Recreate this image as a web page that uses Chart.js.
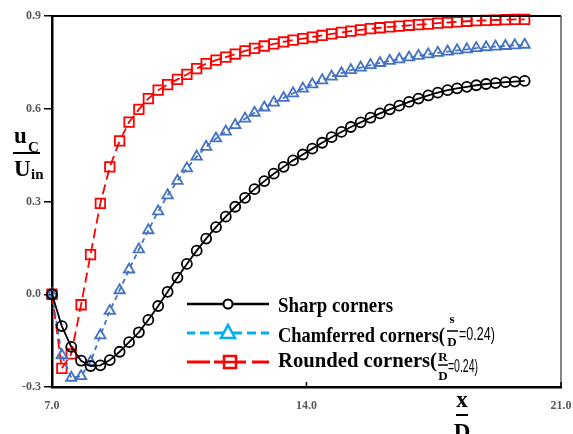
<!DOCTYPE html>
<html>
<head>
<meta charset="utf-8">
<script src="https://cdn.jsdelivr.net/npm/chart.js"></script>
<style>html,body{margin:0;padding:0;background:#fff}</style>
</head>
<body>
<canvas id="chart" width="573" height="434"></canvas>
<script>
// x / D positions of the samples
var xVals = [7.00, 7.27, 7.53, 7.80, 8.06, 8.33, 8.59, 8.86, 9.12, 9.39,
  9.65, 9.92, 10.18, 10.45, 10.71, 10.98, 11.24, 11.51, 11.78, 12.04,
  12.31, 12.57, 12.84, 13.10, 13.37, 13.63, 13.90, 14.16, 14.43, 14.69,
  14.96, 15.22, 15.49, 15.76, 16.02, 16.29, 16.55, 16.82, 17.08, 17.35,
  17.61, 17.88, 18.14, 18.41, 18.67, 18.94, 19.20, 19.47, 19.73, 20.00];

var sharp = [0.0, -0.103, -0.17, -0.215, -0.232, -0.23, -0.213, -0.186, -0.155, -0.123,
  -0.083, -0.038, 0.008, 0.054, 0.098, 0.141, 0.18, 0.217, 0.251, 0.283,
  0.312, 0.34, 0.366, 0.39, 0.412, 0.433, 0.452, 0.471, 0.49, 0.508,
  0.525, 0.541, 0.556, 0.571, 0.585, 0.598, 0.61, 0.622, 0.633, 0.643,
  0.652, 0.66, 0.666, 0.671, 0.676, 0.68, 0.683, 0.686, 0.688, 0.69];

var chamfered = [0.0, -0.197, -0.27, -0.265, -0.219, -0.133, -0.054, 0.013, 0.08, 0.145,
  0.207, 0.268, 0.32, 0.367, 0.407, 0.445, 0.477, 0.504, 0.526, 0.547,
  0.568, 0.587, 0.604, 0.62, 0.635, 0.65, 0.665, 0.679, 0.692, 0.704,
  0.715, 0.725, 0.733, 0.741, 0.748, 0.755, 0.76, 0.766, 0.771, 0.776,
  0.781, 0.785, 0.789, 0.792, 0.796, 0.799, 0.801, 0.803, 0.805, 0.807];

var rounded = [0.0, -0.24, -0.193, -0.034, 0.128, 0.294, 0.412, 0.496, 0.557, 0.598,
  0.633, 0.66, 0.678, 0.695, 0.711, 0.73, 0.746, 0.757, 0.767, 0.777,
  0.787, 0.795, 0.803, 0.81, 0.816, 0.822, 0.827, 0.832, 0.837, 0.842,
  0.847, 0.851, 0.855, 0.859, 0.862, 0.865, 0.867, 0.87, 0.872, 0.874,
  0.877, 0.879, 0.881, 0.883, 0.885, 0.886, 0.887, 0.888, 0.889, 0.889];

var xTicks = [7, 14, 21];
var yTicks = [-0.3, 0.0, 0.3, 0.6, 0.9];

var SERIF = "'Liberation Serif', 'Times New Roman', serif";
var SANS = "'Liberation Sans', Arial, sans-serif";

function pts(ys) {
  return xVals.map(function(x, i) { return {x: x, y: ys[i]}; });
}

// draw text, squeezed horizontally to fit width w (if given)
function txt(ctx, s, x, y, font, color, w, align) {
  ctx.save();
  ctx.font = font;
  ctx.fillStyle = color || '#000';
  ctx.textBaseline = 'alphabetic';
  ctx.textAlign = align || 'left';
  var m = ctx.measureText(s).width;
  var sx = w ? w / m : 1;
  ctx.translate(x, y);
  ctx.scale(sx, 1);
  ctx.fillText(s, 0, 0);
  ctx.restore();
  return m * sx;
}

function hline(ctx, x1, x2, y, color, lw) {
  ctx.save();
  ctx.strokeStyle = color;
  ctx.lineWidth = lw;
  ctx.beginPath();
  ctx.moveTo(x1, y);
  ctx.lineTo(x2, y);
  ctx.stroke();
  ctx.restore();
}

var decor = {
  id: 'decor',
  afterDraw: function(chart) {
    var ctx = chart.ctx;
    var a = chart.chartArea;
    var xs = chart.scales.x;

    // frame: top and right
    hline(ctx, a.left - 1, a.right, a.top, '#000', 2);
    ctx.save();
    ctx.strokeStyle = '#333';
    ctx.lineWidth = 1.2;
    ctx.beginPath();
    ctx.moveTo(a.right, a.top);
    ctx.lineTo(a.right, a.bottom);
    ctx.stroke();
    // inner x ticks
    ctx.strokeStyle = '#000';
    ctx.lineWidth = 1.5;
    xTicks.forEach(function(v) {
      var px = xs.getPixelForValue(v);
      ctx.beginPath();
      ctx.moveTo(px, a.bottom);
      ctx.lineTo(px, a.bottom - 5);
      ctx.stroke();
    });
    ctx.restore();

    // y title u_C / U_in
    txt(ctx, 'u', 14, 143, 'bold 23px ' + SERIF, '#000');
    txt(ctx, 'C', 28, 152, 'bold 15px ' + SERIF, '#000');
    hline(ctx, 13, 40, 153, '#000', 2);
    txt(ctx, 'U', 14, 176, 'bold 23px ' + SERIF, '#000');
    txt(ctx, 'in', 31, 179, 'bold 15px ' + SERIF, '#000');

    // x title x / D
    txt(ctx, 'x', 462, 407, 'bold 23px ' + SERIF, '#000', null, 'center');
    hline(ctx, 456, 468, 415, '#000', 2);
    txt(ctx, 'D', 462, 439, 'bold 23px ' + SERIF, '#000', null, 'center');

    // legend
    var LF = 'bold 22px ' + SERIF;
    // row 1
    hline(ctx, 187, 269, 304, '#000', 2.5);
    ctx.save();
    ctx.beginPath();
    ctx.arc(228, 304, 4.5, 0, Math.PI * 2);
    ctx.fillStyle = '#fff';
    ctx.fill();
    ctx.strokeStyle = '#000';
    ctx.lineWidth = 2;
    ctx.stroke();
    ctx.restore();
    txt(ctx, 'Sharp corners', 278, 312, LF, '#000', 115);

    // row 2
    var cy = '#00b0f0';
    [[187, 195], [200, 209], [214, 242], [247, 256], [261, 269]].forEach(function(s) {
      hline(ctx, s[0], s[1], 333, cy, 3);
    });
    ctx.save();
    ctx.beginPath();
    ctx.moveTo(228, 325);
    ctx.lineTo(235, 338);
    ctx.lineTo(221, 338);
    ctx.closePath();
    ctx.fillStyle = '#fff';
    ctx.fill();
    ctx.strokeStyle = cy;
    ctx.lineWidth = 2.5;
    ctx.stroke();
    ctx.restore();
    txt(ctx, 'Chamferred corners(', 278, 342, LF, '#000', 167);
    txt(ctx, 's', 452, 323, 'bold 13px ' + SERIF, '#000', null, 'center');
    hline(ctx, 447, 458, 331, '#000', 1.5);
    txt(ctx, 'D', 452, 346, 'bold 13px ' + SERIF, '#000', null, 'center');
    txt(ctx, '=0.24)', 459, 340, '18px ' + SANS, '#000', 36);

    // row 3
    var rd = '#ff0000';
    [[187, 210], [214, 246], [252, 269]].forEach(function(s) {
      hline(ctx, s[0], s[1], 362, rd, 3);
    });
    ctx.save();
    ctx.fillStyle = '#fff';
    ctx.fillRect(224, 356, 12, 12);
    ctx.strokeStyle = rd;
    ctx.lineWidth = 2.5;
    ctx.strokeRect(224, 356, 12, 12);
    ctx.restore();
    hline(ctx, 224, 236, 362, rd, 2.5);
    txt(ctx, 'Rounded corners(', 278, 367, LF, '#000', 159);
    txt(ctx, 'R', 443, 361, 'bold 13px ' + SERIF, '#000', null, 'center');
    hline(ctx, 438, 448, 365, '#000', 1.5);
    txt(ctx, 'D', 443, 380, 'bold 13px ' + SERIF, '#000', null, 'center');
    txt(ctx, '=0.24)', 448, 372, '18px ' + SANS, '#000', 30);
  }
};

var ctx = document.getElementById('chart');
var tickFont = {family: SERIF, size: 12, weight: 'bold'};

var chart = new Chart(ctx, {
  type: 'line',
  data: {
    datasets: [{
      label: 'Sharp corners',
      data: pts(sharp),
      borderColor: '#000',
      borderWidth: 1.8,
      pointStyle: 'circle',
      pointRadius: 5,
      pointBorderWidth: 1.8,
      pointBorderColor: '#000',
      pointBackgroundColor: 'rgba(0,0,0,0)',
      clip: 12
    }, {
      label: 'Chamferred corners',
      data: pts(chamfered),
      borderColor: '#4472c4',
      borderWidth: 1.8,
      borderDash: [5, 4],
      pointStyle: 'triangle',
      pointRadius: 6,
      pointBorderWidth: 1.8,
      pointBorderColor: '#4472c4',
      pointBackgroundColor: 'rgba(0,0,0,0)',
      clip: 12
    }, {
      label: 'Rounded corners',
      data: pts(rounded),
      borderColor: '#ff0000',
      borderWidth: 1.8,
      borderDash: [10, 5],
      pointStyle: 'rect',
      pointRadius: 6.7,
      pointBorderWidth: 1.8,
      pointBorderColor: '#ff0000',
      pointBackgroundColor: 'rgba(0,0,0,0)',
      clip: 12
    }]
  },
  options: {
    responsive: false,
    animation: false,
    devicePixelRatio: 1,
    layout: {padding: {top: 16, right: 12, left: 0, bottom: 0}},
    plugins: {
      legend: {display: false},
      tooltip: {enabled: false}
    },
    scales: {
      x: {
        type: 'linear',
        min: 7,
        max: 21,
        afterBuildTicks: function(s) { s.ticks = xTicks.map(function(v) { return {value: v}; }); },
        afterFit: function(s) { s.height = 47; s.paddingLeft = 0; s.paddingRight = 0; },
        ticks: {
          padding: 12,
          font: tickFont,
          color: '#595959',
          maxRotation: 0,
          callback: function(v) { return Number(v).toFixed(1); }
        },
        grid: {drawOnChartArea: false, drawTicks: false},
        border: {display: true, color: '#000', width: 2.5}
      },
      y: {
        type: 'linear',
        min: -0.3,
        max: 0.9,
        afterBuildTicks: function(s) { s.ticks = yTicks.map(function(v) { return {value: v}; }); },
        afterFit: function(s) { s.width = 52; s.paddingTop = 0; s.paddingBottom = 0; },
        ticks: {
          padding: 3,
          font: tickFont,
          color: '#595959',
          callback: function(v) { return Number(v).toFixed(1); }
        },
        grid: {drawOnChartArea: false, drawTicks: true, tickLength: 8, color: '#000', lineWidth: 1.5},
        border: {display: true, color: '#000', width: 2.5}
      }
    }
  },
  plugins: [decor]
});
</script>
</body>
</html>
